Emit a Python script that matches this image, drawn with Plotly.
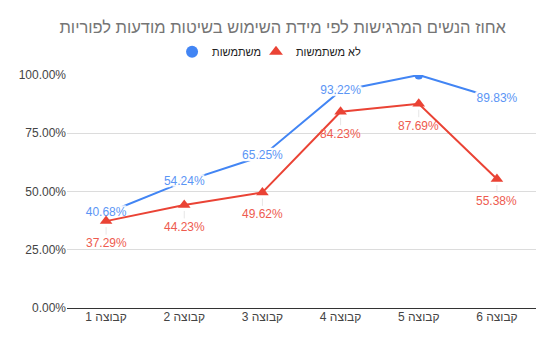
import plotly.graph_objects as go

categories = ["קבוצה 1", "קבוצה 2", "קבוצה 3", "קבוצה 4", "קבוצה 5", "קבוצה 6"]
users = [40.68, 54.24, 65.25, 93.22, 100.0, 89.83]
non_users = [37.29, 44.23, 49.62, 84.23, 87.69, 55.38]
user_labels = ["40.68%", "54.24%", "65.25%", "93.22%", "", "89.83%"]
non_user_labels = ["37.29%", "44.23%", "49.62%", "84.23%", "87.69%", "55.38%"]
y_ticks = [0, 25, 50, 75, 100]
y_tick_labels = ["0.00%", "25.00%", "50.00%", "75.00%", "100.00%"]

series_names = ["משתמשות", "לא משתמשות"]
title = "אחוז הנשים המרגישות לפי מידת השימוש בשיטות מודעות לפוריות"

BLUE = "#4285F4"
RED = "#EA4335"
FONT = "Liberation Sans, Arial, sans-serif"

cats = ["\u202b" + c + "\u202c" for c in categories]
halo = ", ".join(f"{dx}px {dy}px 1px #fff" for dx in (-2, -1, 0, 1, 2) for dy in (-2, -1, 0, 1, 2))

fig = go.Figure()
fig.add_trace(go.Scatter(
    x=cats, y=users, name=series_names[0], mode="lines+markers+text",
    line=dict(color=BLUE, width=2),
    marker=dict(symbol="circle", size=9, color=BLUE),
    text=user_labels, textposition="middle center",
    textfont=dict(family=FONT, size=12, color="#5B95F5", shadow=halo),
    cliponaxis=True, showlegend=False,
))
fig.add_trace(go.Scatter(
    x=cats, y=non_users, name=series_names[1], mode="lines+markers",
    line=dict(color=RED, width=2),
    marker=dict(symbol="triangle-up", size=11, color=RED),
    cliponaxis=False, showlegend=False,
))
# legend-only entries (markers without lines)
fig.add_trace(go.Scatter(x=[None], y=[None], name=series_names[0], mode="markers",
                         marker=dict(symbol="circle", size=12, color=BLUE), legend="legend"))
fig.add_trace(go.Scatter(x=[None], y=[None], name=series_names[1], mode="markers",
                         marker=dict(symbol="triangle-up", size=12, color=RED), legend="legend2"))

for c, v, t in zip(cats, non_users, non_user_labels):
    fig.add_annotation(
        x=c, y=v, text=t, showarrow=True, arrowhead=0, arrowwidth=1,
        arrowcolor="#e6e6e6", ax=0, ay=22, standoff=6,
        font=dict(family=FONT, size=12, color="#EE5B4F"),
        yanchor="middle",
    )

leg_common = dict(orientation="h", xanchor="left", y=1.1, yanchor="middle",
                  font=dict(family=FONT, size=11, color="#222"), itemwidth=30,
                  bgcolor="rgba(0,0,0,0)")
fig.update_layout(
    width=553, height=342,
    margin=dict(l=67, r=17, t=75, b=34, autoexpand=False),
    paper_bgcolor="white", plot_bgcolor="white",
    font=dict(family=FONT, size=12, color="#444"),
    title=dict(text=title, font=dict(family=FONT, size=16.5, color="#757575"),
               xref="container", x=0.915, xanchor="right", y=0.92, yanchor="middle"),
    legend=dict(x=0.224, **leg_common),
    legend2=dict(x=0.403, **leg_common),
    showlegend=True,
)
fig.update_xaxes(showgrid=False, showline=False, ticks="", range=[-0.5, 5.5],
                 tickfont=dict(family=FONT, size=12, color="#444"))
fig.update_yaxes(range=[0, 100], tickvals=y_ticks, ticktext=y_tick_labels,
                 showgrid=True, gridcolor="#dcdcdc", gridwidth=1,
                 zeroline=True, zerolinecolor="#333", zerolinewidth=1,
                 tickfont=dict(family=FONT, size=12, color="#444"), ticks="")

fig.write_html("out.html")
